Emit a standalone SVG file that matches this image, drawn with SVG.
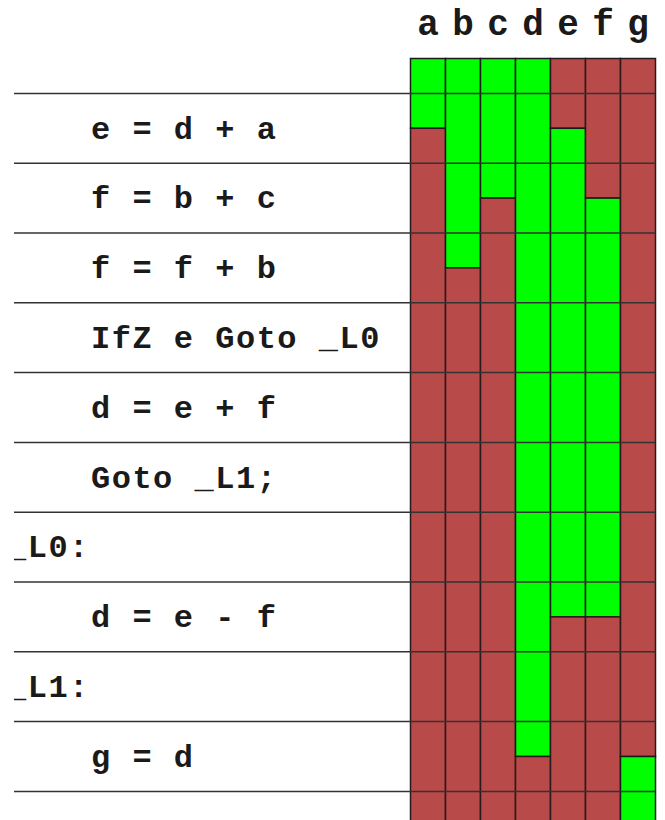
<svg xmlns="http://www.w3.org/2000/svg" width="665" height="820" viewBox="0 0 665 820">
<style>
.g{fill:#00ff00;stroke:#1a1a1a;stroke-width:1.5}
.r{fill:#b94a4a;stroke:#2a1a1a;stroke-width:1.5}
.hl{stroke:#333;stroke-width:1.5}
.code{font-family:"Liberation Mono","DejaVu Sans Mono",monospace;font-weight:bold;font-size:32px;letter-spacing:1.5px;fill:#1a1a1a}
.hdr{font-family:"Liberation Mono","DejaVu Sans Mono",monospace;font-weight:bold;font-size:36px;fill:#1a1a1a;text-anchor:middle}
</style>
<defs><clipPath id="clip"><rect x="14" y="0" width="651" height="820"/></clipPath></defs>
<rect width="665" height="820" fill="#fff"/>
<g id="header">
<text class="hdr" x="428" y="35">a</text>
<text class="hdr" x="463" y="35">b</text>
<text class="hdr" x="498" y="35">c</text>
<text class="hdr" x="533" y="35">d</text>
<text class="hdr" x="568" y="35">e</text>
<text class="hdr" x="603" y="35">f</text>
<text class="hdr" x="638" y="35">g</text>
</g>
<g id="col-a">
<rect class="g" x="410.5" y="58.5" width="35" height="69.8"/>
<rect class="r" x="410.5" y="128.3" width="35" height="700"/>
</g>
<g id="col-b">
<rect class="g" x="445.5" y="58.5" width="35" height="209.4"/>
<rect class="r" x="445.5" y="267.9" width="35" height="600"/>
</g>
<g id="col-c">
<rect class="g" x="480.5" y="58.5" width="35" height="139.6"/>
<rect class="r" x="480.5" y="198.1" width="35" height="700"/>
</g>
<g id="col-d">
<rect class="g" x="515.5" y="58.5" width="35" height="698"/>
<rect class="r" x="515.5" y="756.5" width="35" height="100"/>
</g>
<g id="col-e">
<rect class="r" x="550.5" y="58.5" width="35" height="69.8"/>
<rect class="g" x="550.5" y="128.3" width="35" height="488.6"/>
<rect class="r" x="550.5" y="616.9" width="35" height="300"/>
</g>
<g id="col-f">
<rect class="r" x="585.5" y="58.5" width="35" height="139.6"/>
<rect class="g" x="585.5" y="198.1" width="35" height="418.8"/>
<rect class="r" x="585.5" y="616.9" width="35" height="300"/>
</g>
<g id="col-g">
<rect class="r" x="620.5" y="58.5" width="35" height="698"/>
<rect class="g" x="620.5" y="756.5" width="35" height="100"/>
</g>
<g id="rowlines">
<line class="hl" x1="14" y1="93.4" x2="655.5" y2="93.4"/>
<line class="hl" x1="14" y1="163.2" x2="655.5" y2="163.2"/>
<line class="hl" x1="14" y1="233" x2="655.5" y2="233"/>
<line class="hl" x1="14" y1="302.8" x2="655.5" y2="302.8"/>
<line class="hl" x1="14" y1="372.6" x2="655.5" y2="372.6"/>
<line class="hl" x1="14" y1="442.4" x2="655.5" y2="442.4"/>
<line class="hl" x1="14" y1="512.2" x2="655.5" y2="512.2"/>
<line class="hl" x1="14" y1="582" x2="655.5" y2="582"/>
<line class="hl" x1="14" y1="651.8" x2="655.5" y2="651.8"/>
<line class="hl" x1="14" y1="721.6" x2="655.5" y2="721.6"/>
<line class="hl" x1="14" y1="791.4" x2="655.5" y2="791.4"/>
</g>
<g id="code" clip-path="url(#clip)">
<text class="code" x="91" y="138.5">e = d + a</text>
<text class="code" x="91" y="208.3">f = b + c</text>
<text class="code" x="91" y="278.1">f = f + b</text>
<text class="code" x="91" y="347.9">IfZ e Goto _L0</text>
<text class="code" x="91" y="417.7">d = e + f</text>
<text class="code" x="91" y="487.5">Goto _L1;</text>
<text class="code" x="7" y="557.3">_L0:</text>
<text class="code" x="91" y="627.1">d = e - f</text>
<text class="code" x="7" y="696.9">_L1:</text>
<text class="code" x="91" y="766.7">g = d</text>
</g>
</svg>
